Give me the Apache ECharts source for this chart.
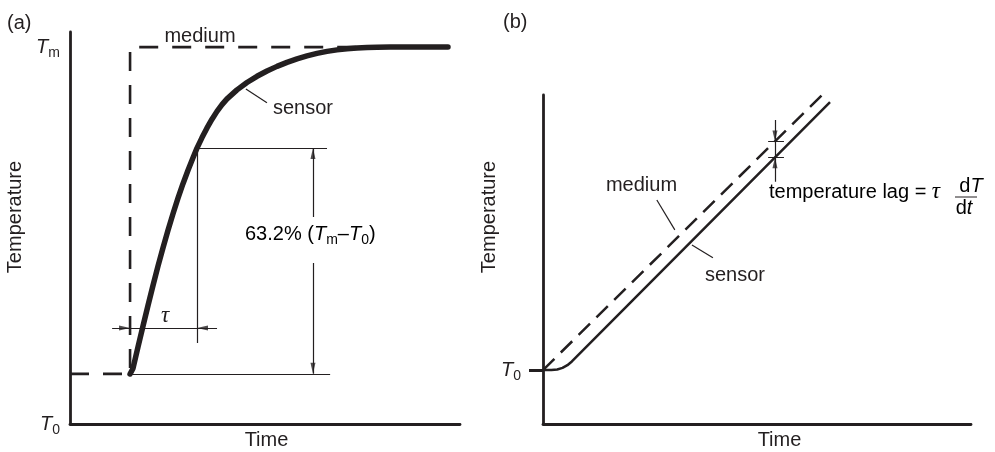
<!DOCTYPE html>
<html><head><meta charset="utf-8">
<script src="https://cdn.jsdelivr.net/npm/echarts@6/dist/echarts.min.js"></script>
<style>html,body{margin:0;padding:0;background:#fff}#c{width:995px;height:452px}</style>
</head><body><div id="c"></div>
<script>
// ===== Panel (a): step response (time 0-100, temperature 0-104 units) =====
const mediumA = [[0,13.3],[15.4,13.3],[15.4,100],[96.9,100]];
const sensorA = [[15.4,13.27],[15.85,13.8],[16.15,14.73],[17.44,20.43],[18.72,26.0],[20.0,31.44],[21.28,36.75],[22.56,41.87],[23.85,46.78],[25.13,51.42],[26.41,55.8],[27.69,59.91],[28.97,63.76],[30.26,67.34],[31.54,70.66],[32.56,73.2],[33.85,75.99],[35.13,78.56],[36.41,80.87],[37.69,82.94],[38.97,84.72],[40.26,86.26],[42.82,88.65],[45.38,90.61],[47.95,92.25],[50.51,93.66],[53.08,94.88],[55.64,95.94],[58.21,96.87],[60.77,97.67],[63.33,98.33],[65.9,98.86],[68.46,99.26],[71.03,99.55],[73.59,99.73],[76.15,99.87],[78.72,99.95],[82.05,100],[96.92,100]];
const tempTicksA = [0, 100];
const tempTickSubsA = ['0', 'm'];
const guideSegmentsA = [
  [[32.56,73.2],[65.9,73.2]],
  [[32.56,73.2],[32.56,21.5]],
  [[15.4,13.3],[66.7,13.3]],
  [[62.3,73.2],[62.3,54.9]],
  [[62.3,42.7],[62.3,13.3]],
  [[10.8,25.5],[37.7,25.5]],
  [[45.1,88.9],[50.5,85.2]]
];
const arrowsUpA = [[62.3,73.2]];
const arrowsDownA = [[62.3,13.3]];
const arrowsRightA = [[15.4,25.5]];
const arrowsLeftA = [[32.56,25.5]];

// ===== Panel (b): ramp response (time 0-100, temperature 0-100 units) =====
const mediumB = [[0,16.4],[65.2,100]];
const sensorB = [[0,16.4],[1.96,16.4],[3.32,16.57],[4.56,17.05],[5.7,17.87],[6.75,19.0],[67.06,97.87]];
const tempTicksB = [16.4];
const tempTickSubsB = ['0'];
const guideSegmentsB = [
  [[52.6,85.9],[56.3,85.9]],
  [[52.6,81.1],[56.3,81.1]],
  [[54.2,92.4],[54.2,73.6]],
  [[26.6,68.1],[30.8,59.0]],
  [[34.8,54.4],[39.7,50.5]]
];
const arrowsDownB = [[54.2,85.9]];
const arrowsUpB = [[54.2,81.1]];

const INK = '#231f20';
const FONT = '"Liberation Sans", Arial, Helvetica, sans-serif';
const SERIF = '"Liberation Serif", "Times New Roman", serif';
const ARROW = 'path://M0,0 L10,0 L5,24 Z';

const richT = {
  n: {fontFamily: FONT, fontSize: 20, color: INK, lineHeight: 20, verticalAlign: 'middle'},
  it: {fontFamily: FONT, fontSize: 20, fontStyle: 'italic', color: INK, lineHeight: 20, verticalAlign: 'middle'},
  sub: {fontFamily: FONT, fontSize: 14, color: INK, lineHeight: 14, padding: [12,0,0,0], verticalAlign: 'middle'},
  tau: {fontFamily: SERIF, fontSize: 23, fontStyle: 'italic', color: INK, lineHeight: 20, verticalAlign: 'middle'}
};

function axisX(gi) {
  return {gridIndex: gi, type: 'value', min: 0, max: 100,
    axisLine: {show: true, onZero: false, lineStyle: {color: INK, width: 2.8}},
    axisTick: {show: false}, axisLabel: {show: false}, splitLine: {show: false}};
}

function guides(segs, xi) {
  return {type: 'lines', coordinateSystem: 'cartesian2d', xAxisIndex: xi, yAxisIndex: xi,
    silent: true, z: 3, polyline: false,
    lineStyle: {color: INK, width: 1.2, opacity: 1, curveness: 0},
    data: segs.map(s => ({coords: s}))};
}
function arrows(pts, xi, rot, off) {
  return {type: 'scatter', xAxisIndex: xi, yAxisIndex: xi, silent: true, z: 4,
    symbol: ARROW, symbolSize: [5, 11], symbolRotate: rot, symbolOffset: off,
    itemStyle: {color: INK}, data: pts};
}

const chart = echarts.init(document.getElementById('c'), null, {renderer: 'canvas'});
chart.setOption({
  animation: false,
  backgroundColor: '#fff',
  grid: [
    {left: 70, top: 32, width: 390, height: 392},
    {left: 543, top: 95, width: 428, height: 329}
  ],
  xAxis: [axisX(0), axisX(1)],
  yAxis: [
    {gridIndex: 0, type: 'value', min: 0, max: 104,
      axisLine: {show: true, onZero: false, lineStyle: {color: INK, width: 2.8}},
      axisTick: {show: false}, splitLine: {show: false},
      axisLabel: {show: true, customValues: tempTicksA, margin: 10,
        formatter: v => '{it|T}{sub|' + tempTickSubsA[tempTicksA.indexOf(v)] + '}', rich: richT}},
    {gridIndex: 1, type: 'value', min: 0, max: 100,
      axisLine: {show: true, onZero: false, lineStyle: {color: INK, width: 2.8}},
      axisTick: {show: true, customValues: tempTicksB, length: 14, lineStyle: {color: INK, width: 3}},
      splitLine: {show: false},
      axisLabel: {show: true, customValues: tempTicksB, margin: 22,
        formatter: v => '{it|T}{sub|' + tempTickSubsB[tempTicksB.indexOf(v)] + '}', rich: richT}}
  ],
  series: [
    {type: 'line', xAxisIndex: 0, yAxisIndex: 0, data: mediumA, showSymbol: false, silent: true, z: 2,
      lineStyle: {color: INK, width: 2.6, type: [19, 14]}},
    {type: 'line', xAxisIndex: 0, yAxisIndex: 0, data: sensorA, showSymbol: false, silent: true, z: 5,
      smooth: false, lineStyle: {color: INK, width: 5.5, join: 'round', cap: 'round'}},
    guides(guideSegmentsA, 0),
    arrows(arrowsUpA, 0, 180, [0, 5.5]),
    arrows(arrowsDownA, 0, 0, [0, -5.5]),
    arrows(arrowsRightA, 0, 90, [-5.5, 0]),
    arrows(arrowsLeftA, 0, -90, [5.5, 0]),
    {type: 'line', xAxisIndex: 1, yAxisIndex: 1, data: mediumB, showSymbol: false, silent: true, z: 2,
      lineStyle: {color: INK, width: 2.5, type: [16, 9]}},
    {type: 'line', xAxisIndex: 1, yAxisIndex: 1, data: sensorB, showSymbol: false, silent: true, z: 5,
      lineStyle: {color: INK, width: 2.5, join: 'round'}},
    guides(guideSegmentsB, 1),
    arrows(arrowsDownB, 1, 0, [0, -5.5]),
    arrows(arrowsUpB, 1, 180, [0, 5.5])
  ],
  graphic: [
    {type: 'text', x: 7, y: 23, style: {text: '(a)', font: '20px ' + FONT, fill: INK, verticalAlign: 'middle'}},
    {type: 'text', x: 503, y: 22, style: {text: '(b)', font: '20px ' + FONT, fill: INK, verticalAlign: 'middle'}},
    {type: 'text', x: 15, y: 217, rotation: Math.PI / 2, style: {text: 'Temperature', font: '20px ' + FONT, fill: INK, align: 'center', verticalAlign: 'middle'}},
    {type: 'text', x: 489.5, y: 217, rotation: Math.PI / 2, style: {text: 'Temperature', font: '20px ' + FONT, fill: INK, align: 'center', verticalAlign: 'middle'}},
    {type: 'text', x: 266.5, y: 440.5, style: {text: 'Time', font: '20px ' + FONT, fill: INK, align: 'center', verticalAlign: 'middle'}},
    {type: 'text', x: 779.5, y: 440.5, style: {text: 'Time', font: '20px ' + FONT, fill: INK, align: 'center', verticalAlign: 'middle'}},
    {type: 'text', x: 200, y: 36, style: {text: 'medium', font: '20px ' + FONT, fill: INK, align: 'center', verticalAlign: 'middle'}},
    {type: 'text', x: 273, y: 108, style: {text: 'sensor', font: '20px ' + FONT, fill: INK, align: 'left', verticalAlign: 'middle'}},
    {type: 'text', x: 245, y: 234.5, style: {text: '{n|63.2% (}{it|T}{sub|m}{n|–}{it|T}{sub|0}{n|)}', rich: richT, align: 'left', verticalAlign: 'middle'}},
    {type: 'text', x: 165, y: 316, style: {text: 'τ', font: 'italic 23px ' + SERIF, fill: INK, align: 'center', verticalAlign: 'middle'}},
    {type: 'text', x: 641.5, y: 185.5, style: {text: 'medium', font: '20px ' + FONT, fill: INK, align: 'center', verticalAlign: 'middle'}},
    {type: 'text', x: 705, y: 275, style: {text: 'sensor', font: '20px ' + FONT, fill: INK, align: 'left', verticalAlign: 'middle'}},
    {type: 'text', x: 769, y: 192, style: {text: '{n|temperature lag = }{tau|τ}', rich: richT, align: 'left', verticalAlign: 'middle'}},
    {type: 'text', x: 971, y: 186, style: {text: '{n|d}{it|T}', rich: richT, align: 'center', verticalAlign: 'middle'}},
    {type: 'text', x: 964, y: 208, style: {text: '{n|d}{it|t}', rich: richT, align: 'center', verticalAlign: 'middle'}},
    {type: 'line', shape: {x1: 955, y1: 197, x2: 977, y2: 197}, style: {stroke: INK, lineWidth: 1}}
  ]
});
</script></body></html>
